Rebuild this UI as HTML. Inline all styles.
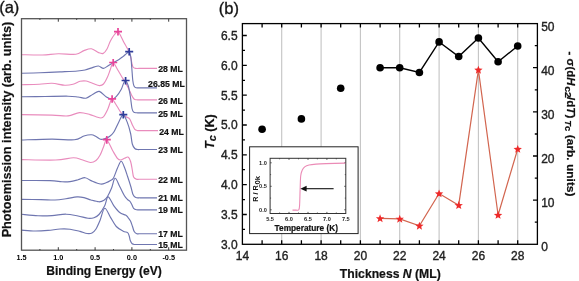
<!DOCTYPE html><html><head><meta charset="utf-8"><style>html,body{margin:0;padding:0;background:#fff;}svg{display:block;will-change:transform;}text{font-family:"Liberation Sans",sans-serif;}.t{stroke:#222;stroke-width:.35px;}.b{stroke:#111;stroke-width:.2px;}</style></head><body>
<svg width="579" height="281" viewBox="0 0 579 281">
<rect width="579" height="281" fill="#fff"/>
<text class="t" x="-0.8" y="12.5" font-size="16.5" fill="#111">(a)</text>
<path d="M21.50,54.70 C24.98,54.75 36.25,55.15 42.40,55.00 C48.55,54.85 52.82,53.92 58.40,53.80 C63.98,53.68 71.65,54.83 75.90,54.30 C80.15,53.77 81.32,51.52 83.90,50.60 C86.48,49.68 88.97,48.47 91.40,48.80 C93.83,49.13 96.53,51.83 98.50,52.60 C100.47,53.37 101.78,54.00 103.20,53.40 C104.62,52.80 105.80,51.07 107.00,49.00 C108.20,46.93 109.15,43.42 110.40,41.00 C111.65,38.58 113.23,36.02 114.50,34.50 C115.77,32.98 116.92,31.57 118.00,31.90 C119.08,32.23 120.05,34.82 121.00,36.50 C121.95,38.18 122.78,40.25 123.70,42.00 C124.62,43.75 125.63,45.42 126.50,47.00 C127.37,48.58 128.20,49.83 128.90,51.50 C129.60,53.17 130.22,55.08 130.70,57.00 C131.18,58.92 131.42,61.33 131.80,63.00 C132.18,64.67 132.38,66.10 133.00,67.00 C133.62,67.90 134.33,68.17 135.50,68.40 C136.67,68.63 139.25,68.40 140.00,68.40 L157.0,68.40" fill="none" stroke="#e98cbd" stroke-width="1.15" stroke-linejoin="round"/>
<path d="M21.50,73.30 C24.58,73.22 33.58,73.03 40.00,72.80 C46.42,72.57 53.75,72.20 60.00,71.90 C66.25,71.60 73.33,71.32 77.50,71.00 C81.67,70.68 82.42,70.60 85.00,70.00 C87.58,69.40 90.75,68.07 93.00,67.40 C95.25,66.73 96.75,65.83 98.50,66.00 C100.25,66.17 101.83,68.48 103.50,68.40 C105.17,68.32 106.83,66.48 108.50,65.50 C110.17,64.52 111.75,63.50 113.50,62.50 C115.25,61.50 117.42,60.48 119.00,59.50 C120.58,58.52 121.75,57.58 123.00,56.60 C124.25,55.62 125.47,54.38 126.50,53.60 C127.53,52.82 128.48,51.33 129.20,51.90 C129.92,52.47 130.37,54.32 130.80,57.00 C131.23,59.68 131.47,64.08 131.80,68.00 C132.13,71.92 132.43,77.50 132.80,80.50 C133.17,83.50 133.47,84.78 134.00,86.00 C134.53,87.22 135.00,87.50 136.00,87.80 C137.00,88.10 139.33,87.80 140.00,87.80 L157.0,87.80" fill="none" stroke="#6f76b0" stroke-width="1.15" stroke-linejoin="round"/>
<path d="M21.50,84.80 C24.45,84.70 34.12,84.45 39.20,84.20 C44.28,83.95 47.73,83.13 52.00,83.30 C56.27,83.47 61.30,85.05 64.80,85.20 C68.30,85.35 70.47,84.85 73.00,84.20 C75.53,83.55 77.80,81.83 80.00,81.30 C82.20,80.77 84.03,80.63 86.20,81.00 C88.37,81.37 90.78,82.73 93.00,83.50 C95.22,84.27 97.75,85.52 99.50,85.60 C101.25,85.68 102.17,85.43 103.50,84.00 C104.83,82.57 106.33,79.50 107.50,77.00 C108.67,74.50 109.55,71.37 110.50,69.00 C111.45,66.63 112.03,62.72 113.20,62.80 C114.37,62.88 116.12,67.27 117.50,69.50 C118.88,71.73 120.25,74.12 121.50,76.20 C122.75,78.28 123.80,79.92 125.00,82.00 C126.20,84.08 127.62,86.53 128.70,88.70 C129.78,90.87 130.62,93.28 131.50,95.00 C132.38,96.72 133.17,98.20 134.00,99.00 C134.83,99.80 135.50,99.67 136.50,99.80 C137.50,99.93 139.42,99.80 140.00,99.80 L157.0,99.80" fill="none" stroke="#e98cbd" stroke-width="1.15" stroke-linejoin="round"/>
<path d="M21.50,96.80 C25.42,96.75 37.25,96.60 45.00,96.50 C52.75,96.40 62.50,96.12 68.00,96.20 C73.50,96.28 75.00,96.67 78.00,97.00 C81.00,97.33 83.50,98.67 86.00,98.20 C88.50,97.73 90.78,95.33 93.00,94.20 C95.22,93.07 97.07,90.93 99.30,91.40 C101.53,91.87 104.27,95.70 106.40,97.00 C108.53,98.30 110.43,99.30 112.10,99.20 C113.77,99.10 114.87,98.07 116.40,96.40 C117.93,94.73 120.12,91.35 121.30,89.20 C122.48,87.05 122.78,84.90 123.50,83.50 C124.22,82.10 124.80,80.38 125.60,80.80 C126.40,81.22 127.52,83.47 128.30,86.00 C129.08,88.53 129.68,92.25 130.30,96.00 C130.92,99.75 131.42,105.80 132.00,108.50 C132.58,111.20 133.05,111.48 133.80,112.20 C134.55,112.92 135.47,112.70 136.50,112.80 C137.53,112.90 139.42,112.80 140.00,112.80 L157.0,112.80" fill="none" stroke="#6f76b0" stroke-width="1.15" stroke-linejoin="round"/>
<path d="M21.50,114.60 C26.58,114.68 44.25,114.88 52.00,115.10 C59.75,115.32 63.42,116.32 68.00,115.90 C72.58,115.48 75.83,112.82 79.50,112.60 C83.17,112.38 87.25,113.90 90.00,114.60 C92.75,115.30 93.92,116.30 96.00,116.80 C98.08,117.30 100.60,118.73 102.50,117.60 C104.40,116.47 106.15,112.43 107.40,110.00 C108.65,107.57 109.22,104.82 110.00,103.00 C110.78,101.18 110.93,98.55 112.10,99.10 C113.27,99.65 115.47,103.98 117.00,106.30 C118.53,108.62 119.88,111.30 121.30,113.00 C122.72,114.70 124.12,115.53 125.50,116.50 C126.88,117.47 128.47,117.42 129.60,118.80 C130.73,120.18 131.43,123.05 132.30,124.80 C133.17,126.55 133.93,128.33 134.80,129.30 C135.67,130.27 136.63,130.38 137.50,130.60 C138.37,130.82 139.58,130.60 140.00,130.60 L158.0,130.60" fill="none" stroke="#e98cbd" stroke-width="1.15" stroke-linejoin="round"/>
<path d="M21.50,140.00 C26.58,139.85 43.20,139.13 52.00,139.10 C60.80,139.07 68.98,140.32 74.30,139.80 C79.62,139.28 81.05,136.83 83.90,136.00 C86.75,135.17 89.38,134.72 91.40,134.80 C93.42,134.88 94.48,135.75 96.00,136.50 C97.52,137.25 99.00,138.95 100.50,139.30 C102.00,139.65 103.50,139.07 105.00,138.60 C106.50,138.13 108.05,137.55 109.50,136.50 C110.95,135.45 112.18,134.65 113.70,132.30 C115.22,129.95 117.03,125.30 118.60,122.40 C120.17,119.50 121.65,114.90 123.10,114.90 C124.55,114.90 126.05,119.30 127.30,122.40 C128.55,125.50 129.77,129.90 130.60,133.50 C131.43,137.10 131.60,141.50 132.30,144.00 C133.00,146.50 133.93,147.58 134.80,148.50 C135.67,149.42 136.63,149.33 137.50,149.50 C138.37,149.67 139.58,149.50 140.00,149.50 L157.0,149.50" fill="none" stroke="#6f76b0" stroke-width="1.15" stroke-linejoin="round"/>
<path d="M21.50,159.60 C27.18,159.67 46.95,160.30 55.60,160.00 C64.25,159.70 69.00,157.83 73.40,157.80 C77.80,157.77 79.15,159.02 82.00,159.80 C84.85,160.58 88.17,162.38 90.50,162.50 C92.83,162.62 94.42,161.70 96.00,160.50 C97.58,159.30 98.75,157.55 100.00,155.30 C101.25,153.05 102.37,149.55 103.50,147.00 C104.63,144.45 105.28,139.42 106.80,140.00 C108.32,140.58 110.83,147.45 112.60,150.50 C114.37,153.55 116.07,156.72 117.40,158.30 C118.73,159.88 119.42,160.00 120.60,160.00 C121.78,160.00 123.27,158.78 124.50,158.30 C125.73,157.82 126.98,156.57 128.00,157.10 C129.02,157.63 129.88,159.35 130.60,161.50 C131.32,163.65 131.80,167.42 132.30,170.00 C132.80,172.58 132.90,175.47 133.60,177.00 C134.30,178.53 135.43,178.83 136.50,179.20 C137.57,179.57 139.42,179.20 140.00,179.20 L157.0,179.20" fill="none" stroke="#e98cbd" stroke-width="1.15" stroke-linejoin="round"/>
<path d="M21.50,180.50 C26.25,180.52 43.25,180.38 50.00,180.60 C56.75,180.82 58.67,181.63 62.00,181.80 C65.33,181.97 67.33,181.93 70.00,181.60 C72.67,181.27 75.50,180.45 78.00,179.80 C80.50,179.15 82.83,177.57 85.00,177.70 C87.17,177.83 88.42,179.55 91.00,180.60 C93.58,181.65 98.00,183.63 100.50,184.00 C103.00,184.37 104.33,183.38 106.00,182.80 C107.67,182.22 109.25,181.30 110.50,180.50 C111.75,179.70 112.33,180.08 113.50,178.00 C114.67,175.92 116.22,170.78 117.50,168.00 C118.78,165.22 120.03,161.38 121.20,161.30 C122.37,161.22 123.43,164.97 124.50,167.50 C125.57,170.03 126.55,173.33 127.60,176.50 C128.65,179.67 129.90,183.50 130.80,186.50 C131.70,189.50 132.17,192.65 133.00,194.50 C133.83,196.35 134.63,197.05 135.80,197.60 C136.97,198.15 139.30,197.77 140.00,197.80 L157.0,197.80" fill="none" stroke="#6f76b0" stroke-width="1.15" stroke-linejoin="round"/>
<path d="M21.50,199.40 C24.75,199.43 35.42,199.50 41.00,199.60 C46.58,199.70 50.83,200.13 55.00,200.00 C59.17,199.87 62.33,199.32 66.00,198.80 C69.67,198.28 74.00,197.10 77.00,196.90 C80.00,196.70 81.67,197.08 84.00,197.60 C86.33,198.12 88.50,199.30 91.00,200.00 C93.50,200.70 96.83,201.75 99.00,201.80 C101.17,201.85 102.58,201.18 104.00,200.30 C105.42,199.42 106.23,198.55 107.50,196.50 C108.77,194.45 110.33,191.03 111.60,188.00 C112.87,184.97 113.75,178.55 115.10,178.30 C116.45,178.05 118.17,183.63 119.70,186.50 C121.23,189.37 123.00,193.33 124.30,195.50 C125.60,197.67 126.53,198.50 127.50,199.50 C128.47,200.50 129.35,200.58 130.10,201.50 C130.85,202.42 131.42,203.87 132.00,205.00 C132.58,206.13 132.85,207.50 133.60,208.30 C134.35,209.10 135.43,209.55 136.50,209.80 C137.57,210.05 139.42,209.80 140.00,209.80 L157.0,209.80" fill="none" stroke="#6f76b0" stroke-width="1.15" stroke-linejoin="round"/>
<path d="M21.50,214.30 C24.25,214.55 32.92,215.58 38.00,215.80 C43.08,216.02 47.33,215.87 52.00,215.60 C56.67,215.33 61.67,214.13 66.00,214.20 C70.33,214.27 74.33,215.32 78.00,216.00 C81.67,216.68 85.33,218.02 88.00,218.30 C90.67,218.58 92.17,218.33 94.00,217.70 C95.83,217.07 97.22,216.48 99.00,214.50 C100.78,212.52 103.18,208.75 104.70,205.80 C106.22,202.85 106.57,196.80 108.10,196.80 C109.63,196.80 111.97,203.18 113.90,205.80 C115.83,208.42 117.77,210.95 119.70,212.50 C121.63,214.05 124.15,214.32 125.50,215.10 C126.85,215.88 126.97,216.22 127.80,217.20 C128.63,218.18 129.72,219.45 130.50,221.00 C131.28,222.55 131.88,224.75 132.50,226.50 C133.12,228.25 133.48,230.30 134.20,231.50 C134.92,232.70 135.83,233.33 136.80,233.70 C137.77,234.07 139.47,233.70 140.00,233.70 L157.0,233.70" fill="none" stroke="#6f76b0" stroke-width="1.15" stroke-linejoin="round"/>
<path d="M21.50,230.10 C23.75,230.25 30.58,230.95 35.00,231.00 C39.42,231.05 43.83,230.73 48.00,230.40 C52.17,230.07 56.33,229.20 60.00,229.00 C63.67,228.80 66.67,228.80 70.00,229.20 C73.33,229.60 77.17,230.68 80.00,231.40 C82.83,232.12 85.00,233.23 87.00,233.50 C89.00,233.77 90.50,233.75 92.00,233.00 C93.50,232.25 94.67,231.08 96.00,229.00 C97.33,226.92 98.55,223.95 100.00,220.50 C101.45,217.05 102.95,208.82 104.70,208.30 C106.45,207.78 108.57,214.37 110.50,217.40 C112.43,220.43 114.18,224.20 116.30,226.50 C118.42,228.80 121.32,230.18 123.20,231.20 C125.08,232.22 126.60,231.80 127.60,232.60 C128.60,233.40 128.75,234.68 129.20,236.00 C129.65,237.32 129.80,239.20 130.30,240.50 C130.80,241.80 131.42,243.13 132.20,243.80 C132.98,244.47 133.70,244.38 135.00,244.50 C136.30,244.62 139.17,244.50 140.00,244.50 L157.0,244.50" fill="none" stroke="#6f76b0" stroke-width="1.15" stroke-linejoin="round"/>
<path d="M114.0,31.6h8M118.0,28.0v7.6" stroke="#e8449a" stroke-width="1.7" fill="none"/>
<path d="M125.2,51.6h8M129.2,48.0v7.6" stroke="#2f3c9a" stroke-width="1.7" fill="none"/>
<path d="M109.2,62.5h8M113.2,58.9v7.6" stroke="#e8449a" stroke-width="1.7" fill="none"/>
<path d="M121.6,80.5h8M125.6,76.9v7.6" stroke="#2f3c9a" stroke-width="1.7" fill="none"/>
<path d="M108.1,98.8h8M112.1,95.2v7.6" stroke="#e8449a" stroke-width="1.7" fill="none"/>
<path d="M119.3,114.6h8M123.3,111.0v7.6" stroke="#2f3c9a" stroke-width="1.7" fill="none"/>
<path d="M102.8,139.7h8M106.8,136.1v7.6" stroke="#e8449a" stroke-width="1.7" fill="none"/>
<rect x="21.5" y="18.7" width="165.0" height="231.5" fill="none" stroke="#555" stroke-width="1.3"/>
<path d="M39.9,250.2v-1.2M39.9,18.7v1.2M58.3,250.2v-3.0M58.3,18.7v3.0M76.7,250.2v-1.2M76.7,18.7v1.2M95.1,250.2v-3.0M95.1,18.7v3.0M113.5,250.2v-1.2M113.5,18.7v1.2M131.9,250.2v-3.0M131.9,18.7v3.0M150.3,250.2v-1.2M150.3,18.7v1.2M168.7,250.2v-3.0M168.7,18.7v3.0" stroke="#3a3a3a" stroke-width="1"/>
<text x="21.5" y="259.6" font-size="7.3" font-weight="bold" fill="#000" text-anchor="middle">1.5</text>
<text x="58.3" y="259.6" font-size="7.3" font-weight="bold" fill="#000" text-anchor="middle">1.0</text>
<text x="95.1" y="259.6" font-size="7.3" font-weight="bold" fill="#000" text-anchor="middle">0.5</text>
<text x="131.9" y="259.6" font-size="7.3" font-weight="bold" fill="#000" text-anchor="middle">0.0</text>
<text x="168.7" y="259.6" font-size="7.3" font-weight="bold" fill="#000" text-anchor="middle">-0.5</text>
<text class="b" x="104" y="275.2" font-size="12.1" font-weight="bold" fill="#111" text-anchor="middle">Binding Energy (eV)</text>
<text class="b" transform="translate(10.6,129.5) rotate(-90)" font-size="12.7" font-weight="bold" fill="#111" text-anchor="middle">Photoemission intensity (arb. units)</text>
<text class="b" x="158.2" y="72.3" font-size="8.7" font-weight="bold" fill="#111">28 ML</text>
<text class="b" x="148.1" y="86.9" font-size="8.7" font-weight="bold" fill="#111">26.85 ML</text>
<text class="b" x="158.2" y="103.6" font-size="8.7" font-weight="bold" fill="#111">26 ML</text>
<text class="b" x="158.2" y="117.4" font-size="8.7" font-weight="bold" fill="#111">25 ML</text>
<text class="b" x="159.2" y="134.5" font-size="8.7" font-weight="bold" fill="#111">24 ML</text>
<text class="b" x="158.2" y="153.3" font-size="8.7" font-weight="bold" fill="#111">23 ML</text>
<text class="b" x="158.2" y="183.4" font-size="8.7" font-weight="bold" fill="#111">22 ML</text>
<text class="b" x="158.2" y="200.9" font-size="8.7" font-weight="bold" fill="#111">21 ML</text>
<text class="b" x="158.2" y="213.3" font-size="8.7" font-weight="bold" fill="#111">19 ML</text>
<text class="b" x="158.2" y="237.1" font-size="8.7" font-weight="bold" fill="#111">17 ML</text>
<text class="b" x="158.2" y="247.6" font-size="8.7" font-weight="bold" fill="#111">15 ML</text>
<text class="t" x="218.8" y="13.5" font-size="16.5" fill="#111">(b)</text>
<path d="M281.7,23.6V244.3M321.1,23.6V244.3M360.4,23.6V244.3M399.7,23.6V244.3M439.1,23.6V244.3M478.4,23.6V244.3M517.7,23.6V244.3" stroke="#c4c4c4" stroke-width="1.1"/>
<polyline points="380.1,218.4 399.7,218.9 419.4,225.8 439.1,193.5 458.7,205.2 478.4,69.8 498.1,215.0 517.7,149.0" fill="none" stroke="#d2654f" stroke-width="1.2"/>
<polygon points="380.07,214.30 381.18,217.16 384.25,217.34 381.87,219.29 382.65,222.26 380.07,220.60 377.48,222.26 378.26,219.29 375.88,217.34 378.95,217.16" fill="#ee2a2a"/>
<polygon points="399.73,214.80 400.85,217.66 403.92,217.84 401.54,219.79 402.32,222.76 399.73,221.10 397.15,222.76 397.93,219.79 395.55,217.84 398.62,217.66" fill="#ee2a2a"/>
<polygon points="419.40,221.70 420.52,224.56 423.58,224.74 421.21,226.69 421.99,229.66 419.40,228.00 416.81,229.66 417.59,226.69 415.22,224.74 418.28,224.56" fill="#ee2a2a"/>
<polygon points="439.07,189.40 440.18,192.26 443.25,192.44 440.87,194.39 441.65,197.36 439.07,195.70 436.48,197.36 437.26,194.39 434.88,192.44 437.95,192.26" fill="#ee2a2a"/>
<polygon points="458.73,201.10 459.85,203.96 462.92,204.14 460.54,206.09 461.32,209.06 458.73,207.40 456.15,209.06 456.93,206.09 454.55,204.14 457.62,203.96" fill="#ee2a2a"/>
<polygon points="478.40,65.70 479.52,68.56 482.58,68.74 480.21,70.69 480.99,73.66 478.40,72.00 475.81,73.66 476.59,70.69 474.22,68.74 477.28,68.56" fill="#ee2a2a"/>
<polygon points="498.07,210.90 499.18,213.76 502.25,213.94 499.87,215.89 500.65,218.86 498.07,217.20 495.48,218.86 496.26,215.89 493.88,213.94 496.95,213.76" fill="#ee2a2a"/>
<polygon points="517.73,144.90 518.85,147.76 521.92,147.94 519.54,149.89 520.32,152.86 517.73,151.20 515.15,152.86 515.93,149.89 513.55,147.94 516.62,147.76" fill="#ee2a2a"/>
<polyline points="380.1,67.7 399.7,67.8 419.4,72.5 439.1,41.9 458.7,56.5 478.4,38.0 498.1,61.8 517.7,46.0" fill="none" stroke="#000" stroke-width="1.4"/>
<circle cx="262.1" cy="129.2" r="3.8" fill="#000"/>
<circle cx="301.4" cy="118.9" r="3.8" fill="#000"/>
<circle cx="340.7" cy="88.3" r="3.8" fill="#000"/>
<circle cx="380.1" cy="67.7" r="3.8" fill="#000"/>
<circle cx="399.7" cy="67.8" r="3.8" fill="#000"/>
<circle cx="419.4" cy="72.5" r="3.8" fill="#000"/>
<circle cx="439.1" cy="41.9" r="3.8" fill="#000"/>
<circle cx="458.7" cy="56.5" r="3.8" fill="#000"/>
<circle cx="478.4" cy="38.0" r="3.8" fill="#000"/>
<circle cx="498.1" cy="61.8" r="3.8" fill="#000"/>
<circle cx="517.7" cy="46.0" r="3.8" fill="#000"/>
<rect x="249.6" y="146.8" width="108.5" height="86.8" fill="#fff" stroke="#222" stroke-width="1"/>
<rect x="270.1" y="158.3" width="75.7" height="55.2" fill="none" stroke="#333" stroke-width="1"/>
<path d="M279.6,213.5v-1.0M279.6,158.3v1.0M289.0,213.5v-1.6M289.0,158.3v1.6M298.5,213.5v-1.0M298.5,158.3v1.0M308.0,213.5v-1.6M308.0,158.3v1.6M317.4,213.5v-1.0M317.4,158.3v1.0M326.9,213.5v-1.6M326.9,158.3v1.6M336.3,213.5v-1.0M336.3,158.3v1.0M270.1,209.8h1.6M345.8,209.8h-1.6M270.1,198.1h1.0M345.8,198.1h-1.0M270.1,186.3h1.6M345.8,186.3h-1.6M270.1,174.6h1.0M345.8,174.6h-1.0M270.1,162.8h1.6M345.8,162.8h-1.6" stroke="#333" stroke-width="0.8"/>
<text x="270.1" y="221.3" font-size="5.6" font-weight="bold" fill="#222" text-anchor="middle">5.5</text>
<text x="289.0" y="221.3" font-size="5.6" font-weight="bold" fill="#222" text-anchor="middle">6.0</text>
<text x="308.0" y="221.3" font-size="5.6" font-weight="bold" fill="#222" text-anchor="middle">6.5</text>
<text x="326.9" y="221.3" font-size="5.6" font-weight="bold" fill="#222" text-anchor="middle">7.0</text>
<text x="345.8" y="221.3" font-size="5.6" font-weight="bold" fill="#222" text-anchor="middle">7.5</text>
<text x="266.8" y="211.8" font-size="5.6" font-weight="bold" fill="#222" text-anchor="end">0.0</text>
<text x="266.8" y="188.3" font-size="5.6" font-weight="bold" fill="#222" text-anchor="end">0.5</text>
<text x="266.8" y="164.8" font-size="5.6" font-weight="bold" fill="#222" text-anchor="end">1.0</text>
<text class="b" x="306.3" y="230.8" font-size="8.3" font-weight="bold" fill="#111" text-anchor="middle">Temperature (K)</text>
<g transform="translate(258.3,0) rotate(-90)"><text x="-201.8" y="0" font-size="7.4" font-weight="bold" fill="#111" textLength="16.6" lengthAdjust="spacingAndGlyphs">R / R</text><text x="-184.6" y="2.0" font-size="6.8" font-weight="bold" fill="#111" textLength="8.6" lengthAdjust="spacingAndGlyphs">0k</text></g>
<path d="M292.50,210.10 C293.08,210.10 294.95,210.15 296.00,210.10 C297.05,210.05 298.20,210.65 298.80,209.80 C299.40,208.95 299.38,208.30 299.60,205.00 C299.82,201.70 299.92,194.83 300.10,190.00 C300.28,185.17 300.33,179.33 300.70,176.00 C301.07,172.67 301.58,171.57 302.30,170.00 C303.02,168.43 303.88,167.43 305.00,166.60 C306.12,165.77 307.17,165.42 309.00,165.00 C310.83,164.58 313.17,164.33 316.00,164.10 C318.83,163.87 321.12,163.77 326.00,163.60 C330.88,163.43 342.08,163.18 345.30,163.10" fill="none" stroke="#eb8bb6" stroke-width="1.1"/>
<path d="M333.6,188.7H305" stroke="#111" stroke-width="1.1"/>
<polygon points="300.4,188.7 306.6,185.8 306.6,191.6" fill="#111"/>
<rect x="242.4" y="23.6" width="295.0" height="220.7" fill="none" stroke="#000" stroke-width="1.3"/>
<path d="M262.1,244.3v-4M262.1,23.6v4M281.7,244.3v-4M281.7,23.6v4M301.4,244.3v-4M301.4,23.6v4M321.1,244.3v-4M321.1,23.6v4M340.7,244.3v-4M340.7,23.6v4M360.4,244.3v-4M360.4,23.6v4M380.1,244.3v-4M380.1,23.6v4M399.7,244.3v-4M399.7,23.6v4M419.4,244.3v-4M419.4,23.6v4M439.1,244.3v-4M439.1,23.6v4M458.7,244.3v-4M458.7,23.6v4M478.4,244.3v-4M478.4,23.6v4M498.1,244.3v-4M498.1,23.6v4M517.7,244.3v-4M517.7,23.6v4M242.4,229.4h2.6M242.4,214.5h4.4M242.4,199.6h2.6M242.4,184.7h4.4M242.4,169.7h2.6M242.4,154.8h4.4M242.4,139.9h2.6M242.4,125.0h4.4M242.4,110.1h2.6M242.4,95.2h4.4M242.4,80.3h2.6M242.4,65.4h4.4M242.4,50.4h2.6M242.4,35.5h4.4M537.4,222.2h-2.6M537.4,200.2h-4.4M537.4,178.1h-2.6M537.4,156.0h-4.4M537.4,134.0h-2.6M537.4,111.9h-4.4M537.4,89.8h-2.6M537.4,67.7h-4.4M537.4,45.7h-2.6" stroke="#000" stroke-width="1.3"/>
<text class="t" x="237.6" y="248.6" font-size="12" fill="#222" text-anchor="end">3.0</text>
<text class="t" x="237.6" y="218.8" font-size="12" fill="#222" text-anchor="end">3.5</text>
<text class="t" x="237.6" y="189.0" font-size="12" fill="#222" text-anchor="end">4.0</text>
<text class="t" x="237.6" y="159.1" font-size="12" fill="#222" text-anchor="end">4.5</text>
<text class="t" x="237.6" y="129.3" font-size="12" fill="#222" text-anchor="end">5.0</text>
<text class="t" x="237.6" y="99.5" font-size="12" fill="#222" text-anchor="end">5.5</text>
<text class="t" x="237.6" y="69.7" font-size="12" fill="#222" text-anchor="end">6.0</text>
<text class="t" x="237.6" y="39.8" font-size="12" fill="#222" text-anchor="end">6.5</text>
<text class="t" x="242.4" y="259.6" font-size="12" fill="#222" text-anchor="middle">14</text>
<text class="t" x="281.7" y="259.6" font-size="12" fill="#222" text-anchor="middle">16</text>
<text class="t" x="321.1" y="259.6" font-size="12" fill="#222" text-anchor="middle">18</text>
<text class="t" x="360.4" y="259.6" font-size="12" fill="#222" text-anchor="middle">20</text>
<text class="t" x="399.7" y="259.6" font-size="12" fill="#222" text-anchor="middle">22</text>
<text class="t" x="439.1" y="259.6" font-size="12" fill="#222" text-anchor="middle">24</text>
<text class="t" x="478.4" y="259.6" font-size="12" fill="#222" text-anchor="middle">26</text>
<text class="t" x="517.7" y="259.6" font-size="12" fill="#222" text-anchor="middle">28</text>
<text class="t" x="541.2" y="251.3" font-size="12" fill="#222">0</text>
<text class="t" x="541.2" y="207.2" font-size="12" fill="#222">10</text>
<text class="t" x="541.2" y="163.0" font-size="12" fill="#222">20</text>
<text class="t" x="541.2" y="118.9" font-size="12" fill="#222">30</text>
<text class="t" x="541.2" y="74.7" font-size="12" fill="#222">40</text>
<text class="t" x="541.2" y="30.6" font-size="12" fill="#222">50</text>
<text class="b" transform="translate(213.6,131.6) rotate(-90)" font-size="12.6" font-weight="bold" fill="#111" text-anchor="middle"><tspan font-style="italic">T</tspan><tspan font-style="italic" font-size="11" dy="2.6">c</tspan><tspan dy="-2.6"> (K)</tspan></text>
<text class="b" x="390.3" y="277.6" font-size="12.2" font-weight="bold" fill="#111" text-anchor="middle">Thickness <tspan font-style="italic">N</tspan> (ML)</text>
<g transform="translate(566.8,0) rotate(90)"><text class="b" x="51.6" y="0.0" font-size="11.7" font-weight="bold" fill="#111" textLength="33.9" lengthAdjust="spacingAndGlyphs">- &#963;(d<tspan font-style="italic">H</tspan></text><text class="b" x="86.2" y="1.3" font-size="9.0" font-weight="bold" fill="#111" textLength="11.8" lengthAdjust="spacingAndGlyphs">c2</text><text class="b" x="97.0" y="0.0" font-size="11.7" font-weight="bold" fill="#111" textLength="21.4" lengthAdjust="spacingAndGlyphs">/d<tspan font-style="italic">T</tspan>)</text><text class="b" x="120.3" y="1.3" font-size="9.0" font-weight="bold" fill="#111" textLength="10.9" lengthAdjust="spacingAndGlyphs"><tspan font-style="italic">T</tspan>c</text><text class="b" x="134.8" y="0.0" font-size="11.7" font-weight="bold" fill="#111" textLength="61.7" lengthAdjust="spacingAndGlyphs">(arb. units)</text></g>
</svg></body></html>
